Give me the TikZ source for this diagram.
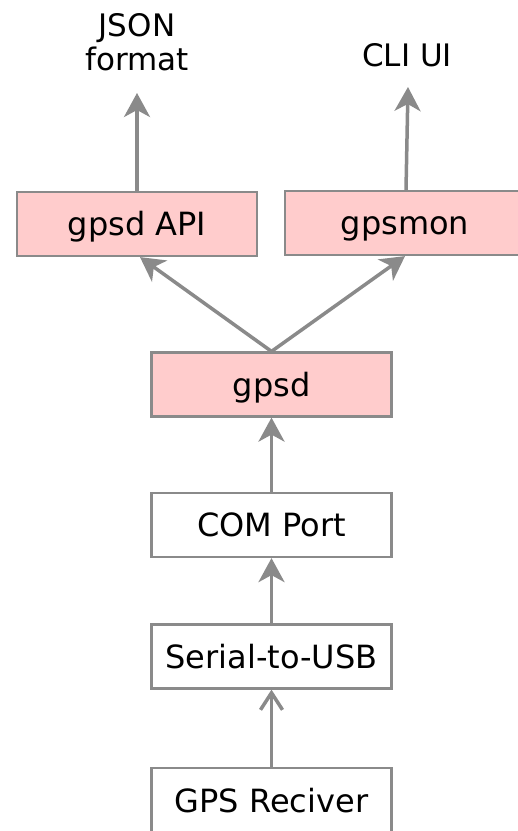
\documentclass[tikz,border=0pt]{standalone}
\usepackage{fontspec}
\setmainfont{DejaVu Sans}
\usetikzlibrary{arrows.meta}
\definecolor{edgegray}{HTML}{8A8A8A}
\definecolor{boxpink}{HTML}{FFCCCC}
\begin{document}
\begin{tikzpicture}[x=1pt, y=-1pt,
  box/.style={draw=edgegray, line width=2.2pt, minimum width=240pt, minimum height=64pt,
    inner sep=0pt, text height=23pt, text depth=0pt, font=\fontsize{32}{34}\selectfont},
  proc/.style={box, fill=boxpink},
  plain/.style={box, fill=white},
  label/.style={font=\fontsize{31}{34}\selectfont, align=center, inner sep=0pt},
  flow/.style={draw=edgegray, line width=3.5pt, -{Stealth[length=24pt, width=26pt, inset=7pt]}},
  openflow/.style={draw=edgegray, line width=3.5pt, -{Straight Barb[length=17pt, width=22pt]}}
]
\useasboundingbox (0,0) rectangle (518,831);

% output labels
\node[label, anchor=base] (json) at (137,70) {JSON\\format};
\node[label, anchor=base] (cli) at (407,66) {CLI UI};
\coordinate (jsontip) at (137,93);
\coordinate (clitip) at (408,87);

% processing chain
\node[proc] (api) at (137,224) {gpsd API};
\node[proc] (mon) at (405,223) {gpsmon};
\node[proc] (gpsd) at (271.5,384.5) {gpsd};
\node[plain] (com) at (271.5,525) {COM Port};
\node[plain] (ser) at (271.5,656.5) {Serial-to-USB};
\node[plain, minimum height=66pt] (gps) at (271.5,801) {GPS Reciver};

% connectors
\draw[openflow] (gps.north) -- (ser.south);
\draw[flow] (ser.north) -- (com.south);
\draw[flow] (com.north) -- (gpsd.south);
\draw[flow] (gpsd.north) -- ([xshift=3pt]api.south);
\draw[flow] (gpsd.north) -- (mon.south);
\draw[flow] (api.north) -- (jsontip);
\draw[flow] ([xshift=1pt]mon.north) -- (clitip);
\end{tikzpicture}
\end{document}
